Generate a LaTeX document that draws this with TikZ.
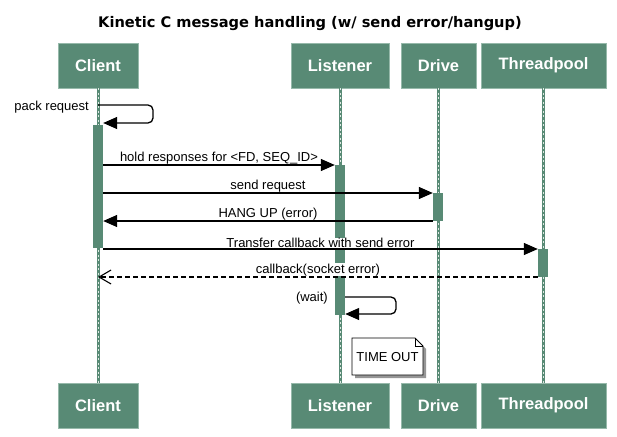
\documentclass[tikz,border=0pt]{standalone}
\usepackage{fontspec}
\setmainfont{Liberation Sans}
\newfontfamily\titlefont{DejaVu Sans}
\usetikzlibrary{arrows.meta}
\definecolor{boxgreen}{RGB}{88,138,117}
\definecolor{boxedge}{RGB}{150,185,170}
\definecolor{shadowgray}{RGB}{150,150,150}
\begin{document}
\begin{tikzpicture}[x=1pt,y=-1pt,
  participant/.style={draw=boxedge, line width=0.8pt, fill=boxgreen, text=white,
    font=\fontsize{16.5}{18}\selectfont\bfseries, minimum height=45pt, inner sep=0pt},
  actbar/.style={fill=boxgreen, draw=none, minimum width=10pt, inner sep=0pt},
  lifeline/.style={draw=boxgreen, line width=3pt},
  lifedash/.style={draw=white!80!boxgreen, line width=0.7pt, dash pattern=on 2pt off 2.5pt},
  msg/.style={-{Triangle[length=14pt,width=12pt]}, line width=1.3pt},
  retmsg/.style={-{Straight Barb[length=12pt,width=14pt,line width=1.1pt]}, line width=1.3pt, dash pattern=on 5pt off 3pt},
  lbl/.style={font=\fontsize{13}{15}\selectfont, fill=white, inner sep=0.6pt},
  txt/.style={font=\fontsize{13}{15}\selectfont, inner sep=0pt}
]
\useasboundingbox (0,0) rectangle (617,436);
\fill[white] (0,0) rectangle (617,436);

% title
\node[font=\titlefont\bfseries\fontsize{14.6}{16}\selectfont] (title) at (310,24)
  {Kinetic C message handling (w/ send error/hangup)};

% participants
\node[participant, minimum width=80pt]  (ct) at (98,65.5) {Client};
\node[participant, minimum width=98pt]  (lt) at (340,65.5) {Listener};
\node[participant, minimum width=75pt]  (dt) at (438.5,65.5) {Drive};
\node[participant, minimum width=125pt] (tt) at (543.5,65.5) {Threadpool};
\node[participant, minimum width=80pt]  (cb) at (98,405.5) {Client};
\node[participant, minimum width=98pt]  (lb) at (340,405.5) {Listener};
\node[participant, minimum width=75pt]  (db) at (438.5,405.5) {Drive};
\node[participant, minimum width=125pt] (tb) at (543.5,405.5) {Threadpool};

% lifelines
\foreach \x in {98, 340, 438, 543}{
  \draw[lifeline] (\x,88) -- (\x,383);
  \draw[lifedash] (\x,88) -- (\x,383);
}

% activation bars
\node[actbar, minimum height=123pt] (cbar) at (98,186.5) {};
\node[actbar, minimum height=150pt] (lbar) at (340,240) {};
\node[actbar, minimum height=28pt]  (dbar) at (438,207) {};
\node[actbar, minimum height=28pt]  (tbar) at (543,263) {};

% pack request (self)
\node[txt, anchor=base east] (packlbl) at (89,110) {pack request};
\draw[msg, rounded corners=5pt] (98,105) -- (153,105) -- (153,123) -- (cbar.east |- 0,123);

% hold responses
\draw[msg] (cbar.east |- 0,165) -- node[lbl, above] (l1) {hold responses for <FD, SEQ\_ID>} (lbar.west |- 0,165);
% send request
\draw[msg] (cbar.east |- 0,193) -- node[lbl, above] (l2) {send request} (dbar.west |- 0,193);
% hang up
\draw[msg] (dbar.west |- 0,221) -- node[lbl, above] (l3) {HANG UP (error)} (cbar.east |- 0,221);
% transfer callback
\draw[msg] (cbar.east |- 0,249) -- node[lbl, above] (l4) {Transfer callback with send error} (tbar.west |- 0,249);
% callback socket error
\draw[retmsg] (tbar.west |- 0,277) -- node[lbl, above] (l5) {callback(socket error)} (98,277);

% wait (self)
\node[txt, anchor=base east] (waitlbl) at (328,301) {(wait)};
\draw[msg, rounded corners=5pt] (lbar.east |- 0,297) -- (396,297) -- (396,314) -- (lbar.east |- 0,314);

% note
\fill[shadowgray] (355,341) -- (418,341) -- (426,349) -- (426,378) -- (355,378) -- cycle;
\draw[fill=white, line width=0.9pt] (352,338) -- (415,338) -- (423,346) -- (423,375) -- (352,375) -- cycle;
\draw[line width=0.7pt] (415,338) -- (415,346) -- (423,346);
\node[txt] (note) at (387.5,357) {TIME OUT};
\end{tikzpicture}
\end{document}
